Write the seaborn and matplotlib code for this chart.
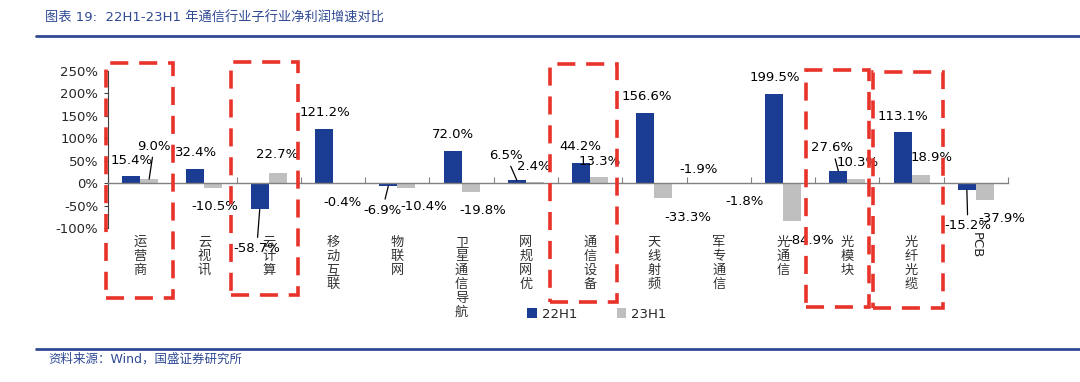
import numpy as np
import pandas as pd
import seaborn as sns
import matplotlib.pyplot as plt
from matplotlib.patches import Rectangle

# 子行业与两期净利润增速（%）
categories = ['运营商', '云视讯', '云计算', '移动互联', '物联网', '卫星通信导航', '网规网优',
              '通信设备', '天线射频', '军专通信', '光通信', '光模块', '光纤光缆', 'PCB']
series = ['22H1', '23H1']
growth_22h1 = [15.4, 32.4, -58.7, 121.2, -6.9, 72.0, 6.5, 44.2, 156.6, -1.9, 199.5, 27.6, 113.1, -15.2]
growth_23h1 = [9.0, -10.5, 22.7, -0.4, -10.4, -19.8, 2.4, 13.3, -33.3, -1.8, -84.9, 10.3, 18.9, -37.9]
yticks = [-100, -50, 0, 50, 100, 150, 200, 250]

# 数据标签偏移（像素，相对柱端）和引导线
offs_22h1 = [(0, 16), (1, 16), (-3, -39), (1, 16), (-6, -24), (0, 16), (-11, 25),
             (-1, 17), (1, 16), (-11, 14), (1, 16), (-6, 23), (0, 16), (1, -36)]
offs_23h1 = [(5, 33), (1, -19), (-1, 18), (0, -19), (17, -19), (12, -18), (-1, 16),
             (1, 16), (24, -19), (17, -18), (19, -19), (1, 16), (11, 17), (17, -18)]
lead_22h1 = [2, 4, 6, 11, 13]
lead_23h1 = [0]

blue = '#1B3C93'
gray = '#BFBFBF'
red = '#E8332A'
navy = '#2F4A93'

df = pd.DataFrame({
    'cat': categories * 2,
    'series': [series[0]] * len(categories) + [series[1]] * len(categories),
    'val': growth_22h1 + growth_23h1,
})

sns.set_style('white')
plt.rcParams['font.family'] = ['DejaVu Sans', 'Noto Sans CJK SC']
plt.rcParams['axes.unicode_minus'] = False

W, H = 1080, 382
fig = plt.figure(figsize=(W / 100, H / 100), dpi=100)
ax = fig.add_axes([108 / W, 1 - 228 / H, 900 / W, 157 / H])

sns.barplot(data=df, x='cat', y='val', hue='series', order=categories, hue_order=series,
            palette=[blue, gray], saturation=1, width=0.56, gap=0, errorbar=None,
            linewidth=0, ax=ax, legend=True)

ax.set_xlim(-0.5, len(categories) - 0.5)
ax.set_ylim(-100, 250)
ax.set_yticks(yticks)
ax.set_yticklabels([f'{v}%' for v in yticks], fontsize=9.5)
ax.tick_params(axis='y', direction='out', length=3, width=0.8, color='#404040', pad=4, left=True)
ax.set_xlabel('')
ax.set_ylabel('')

for s in ['top', 'right']:
    ax.spines[s].set_visible(False)
ax.spines['left'].set_color('#404040')
ax.spines['left'].set_linewidth(0.8)
ax.spines['bottom'].set_position(('data', 0))
ax.spines['bottom'].set_color('#808080')
ax.spines['bottom'].set_linewidth(1)
ax.set_xticks(np.arange(-0.5, len(categories), 1.0))
ax.set_xticklabels([])
ax.tick_params(axis='x', direction='in', length=4, width=0.8, color='#808080', bottom=True)

# 类目标签（竖排）
for i, c in enumerate(categories):
    if c == 'PCB':
        ax.annotate(c, xy=(i, -100), xytext=(0, -4), textcoords='offset pixels',
                    ha='center', va='top', rotation=-90, fontsize=9.5, color='#222222')
    else:
        ax.annotate('\n'.join(c), xy=(i, -100), xytext=(0, -8), textcoords='offset pixels',
                    ha='center', va='top', fontsize=9.5, color='#333333', linespacing=1.1)

# 数据标签
for cont, vals, offs, lead in zip(ax.containers, [growth_22h1, growth_23h1],
                                  [offs_22h1, offs_23h1], [lead_22h1, lead_23h1]):
    for i, (bar, v) in enumerate(zip(cont, vals)):
        x = bar.get_x() + bar.get_width() / 2
        kw = {}
        if i in lead:
            kw['arrowprops'] = dict(arrowstyle='-', color='black', lw=0.9, shrinkA=1, shrinkB=0)
        ax.annotate(f'{v:.1f}%', xy=(x, v), xytext=offs[i], textcoords='offset pixels',
                    ha='center', va='center', fontsize=9.5, color='black', **kw)

# 图例
handles, labels = ax.get_legend_handles_labels()
ax.get_legend().remove()
fig.legend(handles, labels, loc='center', bbox_to_anchor=(597 / W, 1 - 314 / H),
           ncol=2, frameon=False, fontsize=9.5, handlelength=0.7, handleheight=0.7,
           handletextpad=0.4, columnspacing=3.0)

# 红色虚线框
boxes = [(106, 63, 173, 298), (231, 62, 298, 295), (550, 64, 617, 302),
         (806, 70, 869, 307), (873, 72, 943, 308)]
for x0, y0, x1, y1 in boxes:
    fig.add_artist(Rectangle((x0 / W, 1 - y1 / H), (x1 - x0) / W, (y1 - y0) / H,
                             transform=fig.transFigure, fill=False, edgecolor=red,
                             linewidth=2.6, linestyle=(0, (5, 3)), zorder=10))

# 标题与来源
fig.text(45 / W, 1 - 18 / H, '图表 19:  22H1-23H1 年通信行业子行业净利润增速对比',
         fontsize=9.5, color=navy, va='center', ha='left')
fig.add_artist(plt.Line2D([36 / W, 1], [1 - 36 / H] * 2, color=navy, lw=2))
fig.add_artist(plt.Line2D([36 / W, 1], [1 - 349 / H] * 2, color=navy, lw=2))
fig.text(48 / W, 1 - 359 / H, '资料来源：Wind，国盛证券研究所',
         fontsize=9, color=navy, va='center', ha='left')

fig.savefig('out.png', dpi=100)
